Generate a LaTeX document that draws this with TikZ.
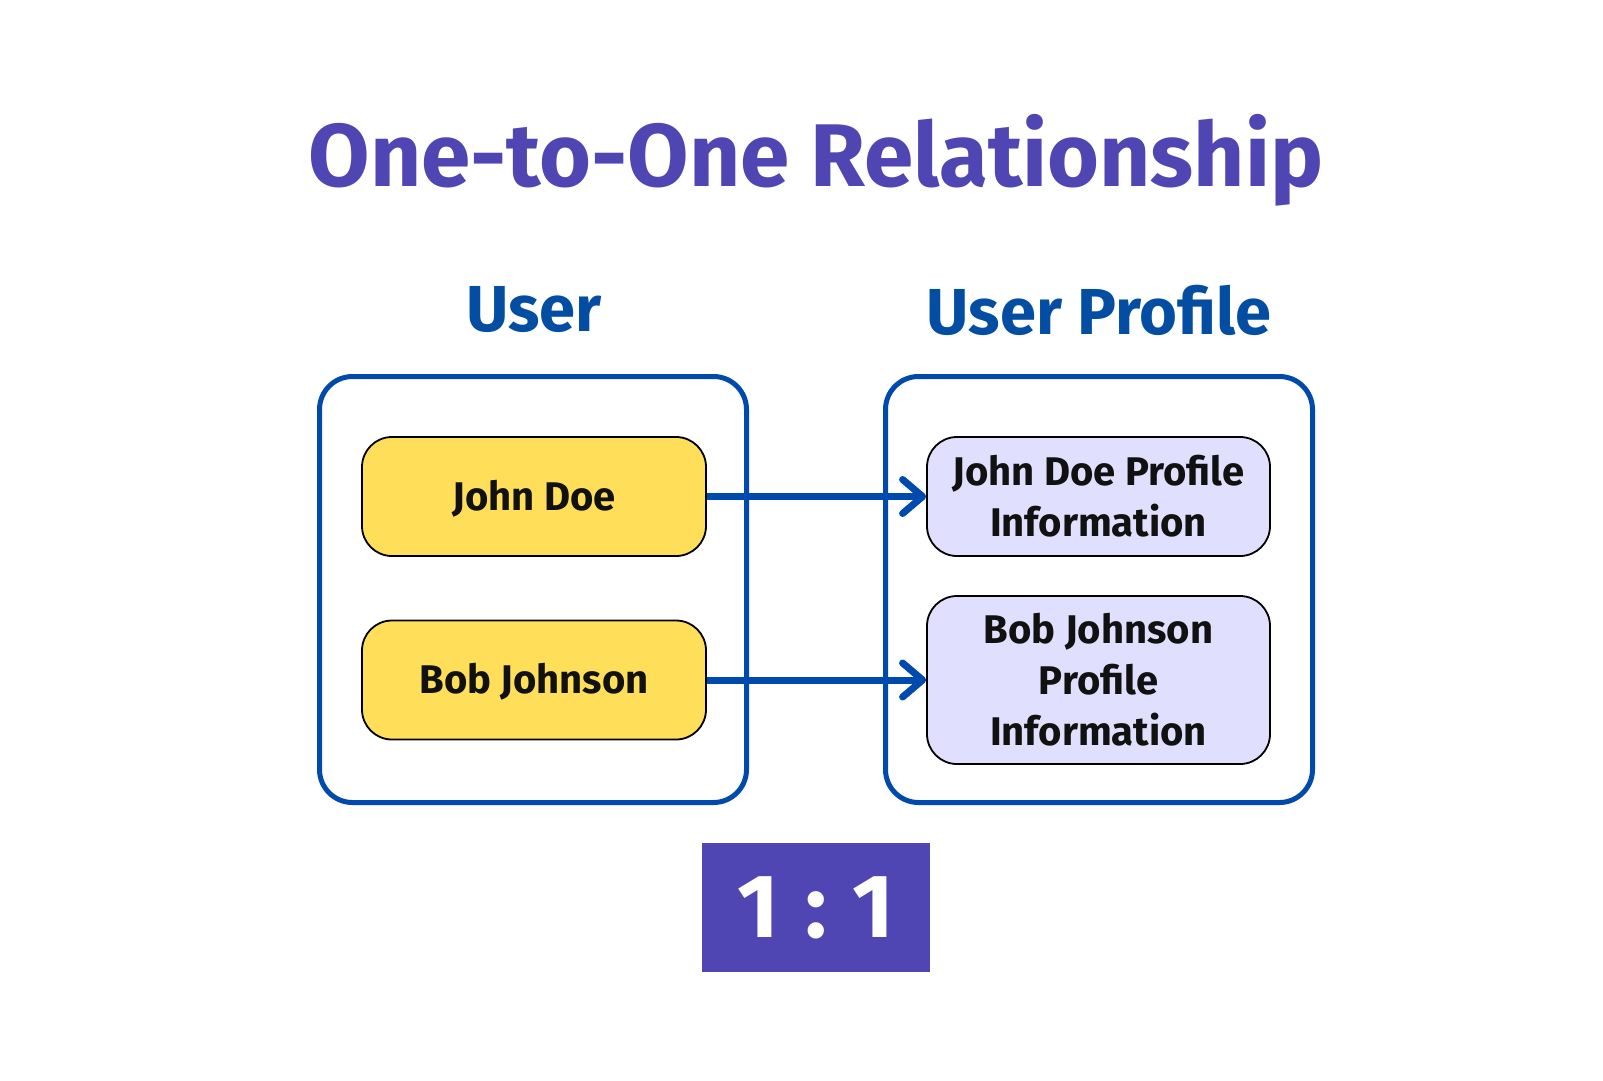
\documentclass[tikz,border=0pt]{standalone}
\usepackage{fontspec}
\setmainfont{Fira Sans}[BoldFont={Fira Sans Bold}]
\usetikzlibrary{arrows.meta}
\definecolor{titlepurple}{HTML}{4F46B3}
\definecolor{headblue}{HTML}{034EA2}
\definecolor{frameblue}{HTML}{004AAD}
\definecolor{useryellow}{HTML}{FFDE59}
\definecolor{proflav}{HTML}{E0DFFD}
\definecolor{inkblack}{HTML}{111111}
\tikzset{
  frame/.style={draw=frameblue, line width=5pt, rounded corners=33pt},
  entry/.style={draw=black, line width=1.8pt, rounded corners=30pt, inner sep=0pt,
    font=\bfseries\fontsize{40}{51}\selectfont, text=inkblack, align=center},
  userbox/.style={entry, fill=useryellow, minimum width=344pt, minimum height=119pt,
    text height=27pt, text depth=0pt},
  profbox/.style={entry, fill=proflav, minimum width=343pt},
  link/.style={draw=frameblue, line width=7pt,
    -{Straight Barb[round, length=20pt, width=34pt, line width=7pt]}},
  header/.style={font=\bfseries\fontsize{65}{70}\selectfont, text=headblue},
}
\begin{document}
\begin{tikzpicture}[x=1pt, y=-1pt]
  \useasboundingbox (0,0) rectangle (1603,1080);
  \fill[white] (0,0) rectangle (1603,1080);

  % title
  \node[font=\bfseries\fontsize{89}{100}\selectfont, text=titlepurple] (title) at (816,160) {One-to-One Relationship};

  % column headers
  \node[header] (huser) at (534,310) {User};
  \node[header] (hprof) at (1099,310) {User Profile};

  % outer frames
  \draw[frame] (319.5,376.5) rectangle (746.5,802.5);
  \draw[frame] (885.5,376.5) rectangle (1312.5,802.5);

  % user entries
  \node[userbox] (john) at (534,496.5) {John Doe};
  \node[userbox] (bob) at (534,680) {Bob Johnson};

  % profile entries
  \node[profbox, minimum height=119pt] (johnp) at (1098.5,496.5) {John Doe Profile\\Information};
  \node[profbox, minimum height=168pt] (bobp) at (1098.5,680) {Bob Johnson\\Profile\\Information};

  % one-to-one links
  \draw[link] (john.east) -- (johnp.west);
  \draw[link] (bob.east) -- (bobp.west);

  % ratio badge
  \node[fill=titlepurple, minimum width=228pt, minimum height=129pt, inner sep=0pt,
        text=white, font=\bfseries\fontsize{90}{90}\selectfont] (ratio) at (816,907.5) {1\kern26pt:\kern26pt1};
\end{tikzpicture}
\end{document}
